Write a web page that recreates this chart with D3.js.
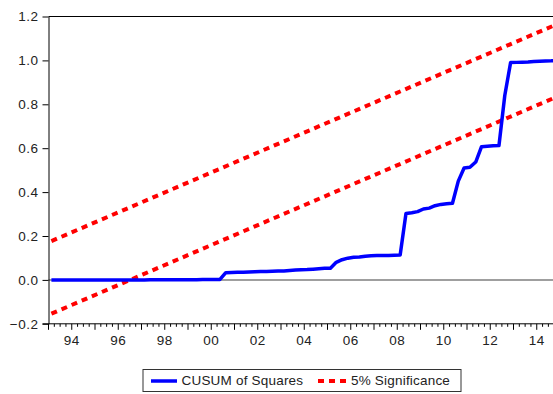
<!DOCTYPE html>
<html>
<head>
<meta charset="utf-8">
<script src="https://cdn.jsdelivr.net/npm/d3@7"></script>
<style>
  html, body { margin: 0; padding: 0; background: #fff; }
  svg { display: block; }
  text { font-family: "Liberation Sans", Arial, sans-serif; fill: #222; }
</style>
</head>
<body>
<svg id="chart" width="553" height="394"></svg>
<script>
// Quarterly sample 1993Q1 - 2014Q4
const startYear = 1993;
const nObs = 88;
const quarters = d3.range(nObs).map(i => (startYear + Math.floor(i / 4)) + "Q" + (i % 4 + 1));

// CUSUM of squares, one value per quarter
const cusumSq = [
  0.000, 0.000, 0.000, 0.000, 0.000, 0.000, 0.000, 0.000, 0.000, 0.000,
  0.000, 0.000, 0.000, 0.000, 0.000, 0.000, 0.000, 0.001, 0.001, 0.001,
  0.001, 0.001, 0.001, 0.001, 0.001, 0.001, 0.002, 0.002, 0.002, 0.002,
  0.033, 0.034, 0.035, 0.035, 0.036, 0.037, 0.038, 0.038, 0.039, 0.040,
  0.041, 0.043, 0.045, 0.046, 0.047, 0.049, 0.051, 0.053, 0.053, 0.080,
  0.092, 0.099, 0.103, 0.104, 0.108, 0.110, 0.111, 0.111, 0.111, 0.112,
  0.113, 0.303, 0.306, 0.311, 0.323, 0.327, 0.338, 0.344, 0.347, 0.349,
  0.450, 0.510, 0.513, 0.537, 0.607, 0.609, 0.611, 0.612, 0.840, 0.990,
  0.991, 0.992, 0.993, 0.995, 0.996, 0.997, 0.998, 1.000
];

// 5% significance bounds at the first and last observation
const boundQuarters = [quarters[0], quarters[nObs - 1]];
const upper5 = [0.177, 1.165];
const lower5 = [-0.154, 0.835];

const yTicks = [-0.2, 0.0, 0.2, 0.4, 0.6, 0.8, 1.0, 1.2];
const yearLabels = ["94", "96", "98", "00", "02", "04", "06", "08", "10", "12", "14"];
const legendLabels = ["CUSUM of Squares", "5% Significance"];

// position of a quarter: centre of its span on a fractional-year axis
const qTime = q => +q.slice(0, 4) + (+q.slice(5) - 0.5) / 4;

const svg = d3.select("#chart");
const plot = { left: 48.5, top: 16.5, bottom: 323.8 };

const x = d3.scaleLinear().domain([1993, 2015]).range([plot.left, plot.left + 22 * 23.25]);
const y = d3.scaleLinear().domain([-0.2, 1.2]).range([plot.bottom, plot.top]);
const xRight = x.range()[1];

// frame: top border
svg.append("line")
  .attr("x1", plot.left).attr("x2", xRight)
  .attr("y1", y(1.2)).attr("y2", y(1.2))
  .attr("stroke", "#000").attr("stroke-width", 1);

// zero reference line
svg.append("line")
  .attr("x1", plot.left).attr("x2", xRight)
  .attr("y1", y(0)).attr("y2", y(0))
  .attr("stroke", "#7f7f7f").attr("stroke-width", 1.5);

// y axis
const yAxis = d3.axisLeft(y)
  .tickValues(yTicks)
  .tickFormat(d3.format(".1f"))
  .tickSize(6)
  .tickSizeOuter(0)
  .tickPadding(4);
const gy = svg.append("g").attr("transform", `translate(${plot.left},0)`).call(yAxis);
gy.select(".domain").attr("stroke", "#000");
gy.selectAll(".tick line").attr("stroke", "#000");
gy.selectAll(".tick text")
  .attr("font-size", 13.5)
  .style("letter-spacing", "0.5px")
  .attr("fill", "#222");

// x axis: minor quarter ticks, long year ticks, labels every second year
const gx = svg.append("g").attr("transform", `translate(0,${plot.bottom})`);
gx.append("line")
  .attr("x1", plot.left - 6).attr("x2", xRight)
  .attr("stroke", "#000").attr("stroke-width", 1);
const quarterTicks = d3.range(1993, 2015.001, 0.25);
gx.selectAll("line.qt")
  .data(quarterTicks)
  .join("line")
  .attr("class", "qt")
  .attr("x1", d => x(d)).attr("x2", d => x(d))
  .attr("y1", 0)
  .attr("y2", d => Math.abs(d - Math.round(d)) < 1e-6 ? 6 : 3)
  .attr("stroke", "#000").attr("stroke-width", 1);
gx.selectAll("text")
  .data(yearLabels)
  .join("text")
  .attr("x", (d, i) => x(1994 + 2 * i))
  .attr("y", 21.5)
  .attr("text-anchor", "middle")
  .attr("font-size", 13.5)
  .style("letter-spacing", "0.5px")
  .text(d => d);

// significance bounds
const bound = d3.line().x(d => x(qTime(d[0]))).y(d => y(d[1]));
[upper5, lower5].forEach(vals => {
  svg.append("path")
    .datum(boundQuarters.map((q, i) => [q, vals[i]]))
    .attr("d", bound)
    .attr("fill", "none")
    .attr("stroke", "#ff0000")
    .attr("stroke-width", 4)
    .attr("stroke-dasharray", "6,5");
});

// CUSUM of squares
const cusumLine = d3.line()
  .x((d, i) => x(qTime(quarters[i])))
  .y(d => y(d));
svg.append("path")
  .datum(cusumSq)
  .attr("d", cusumLine)
  .attr("fill", "none")
  .attr("stroke", "#0000ff")
  .attr("stroke-width", 3.5)
  .attr("stroke-linejoin", "round");

// legend
const lg = svg.append("g").attr("transform", "translate(143,369.5)");
lg.append("rect")
  .attr("width", 318).attr("height", 22)
  .attr("fill", "#fff").attr("stroke", "#333").attr("stroke-width", 1);
lg.append("line")
  .attr("x1", 8).attr("x2", 34).attr("y1", 11.5).attr("y2", 11.5)
  .attr("stroke", "#0000ff").attr("stroke-width", 3.5);
lg.append("text")
  .attr("x", 38.5).attr("y", 15.5)
  .attr("font-size", 13.5)
  .style("letter-spacing", "0.2px")
  .text(legendLabels[0]);
lg.append("line")
  .attr("x1", 175).attr("x2", 204).attr("y1", 11.5).attr("y2", 11.5)
  .attr("stroke", "#ff0000").attr("stroke-width", 4)
  .attr("stroke-dasharray", "6,5");
lg.append("text")
  .attr("x", 208).attr("y", 15.5)
  .attr("font-size", 13.5)
  .style("letter-spacing", "0.2px")
  .text(legendLabels[1]);
</script>
</body>
</html>
